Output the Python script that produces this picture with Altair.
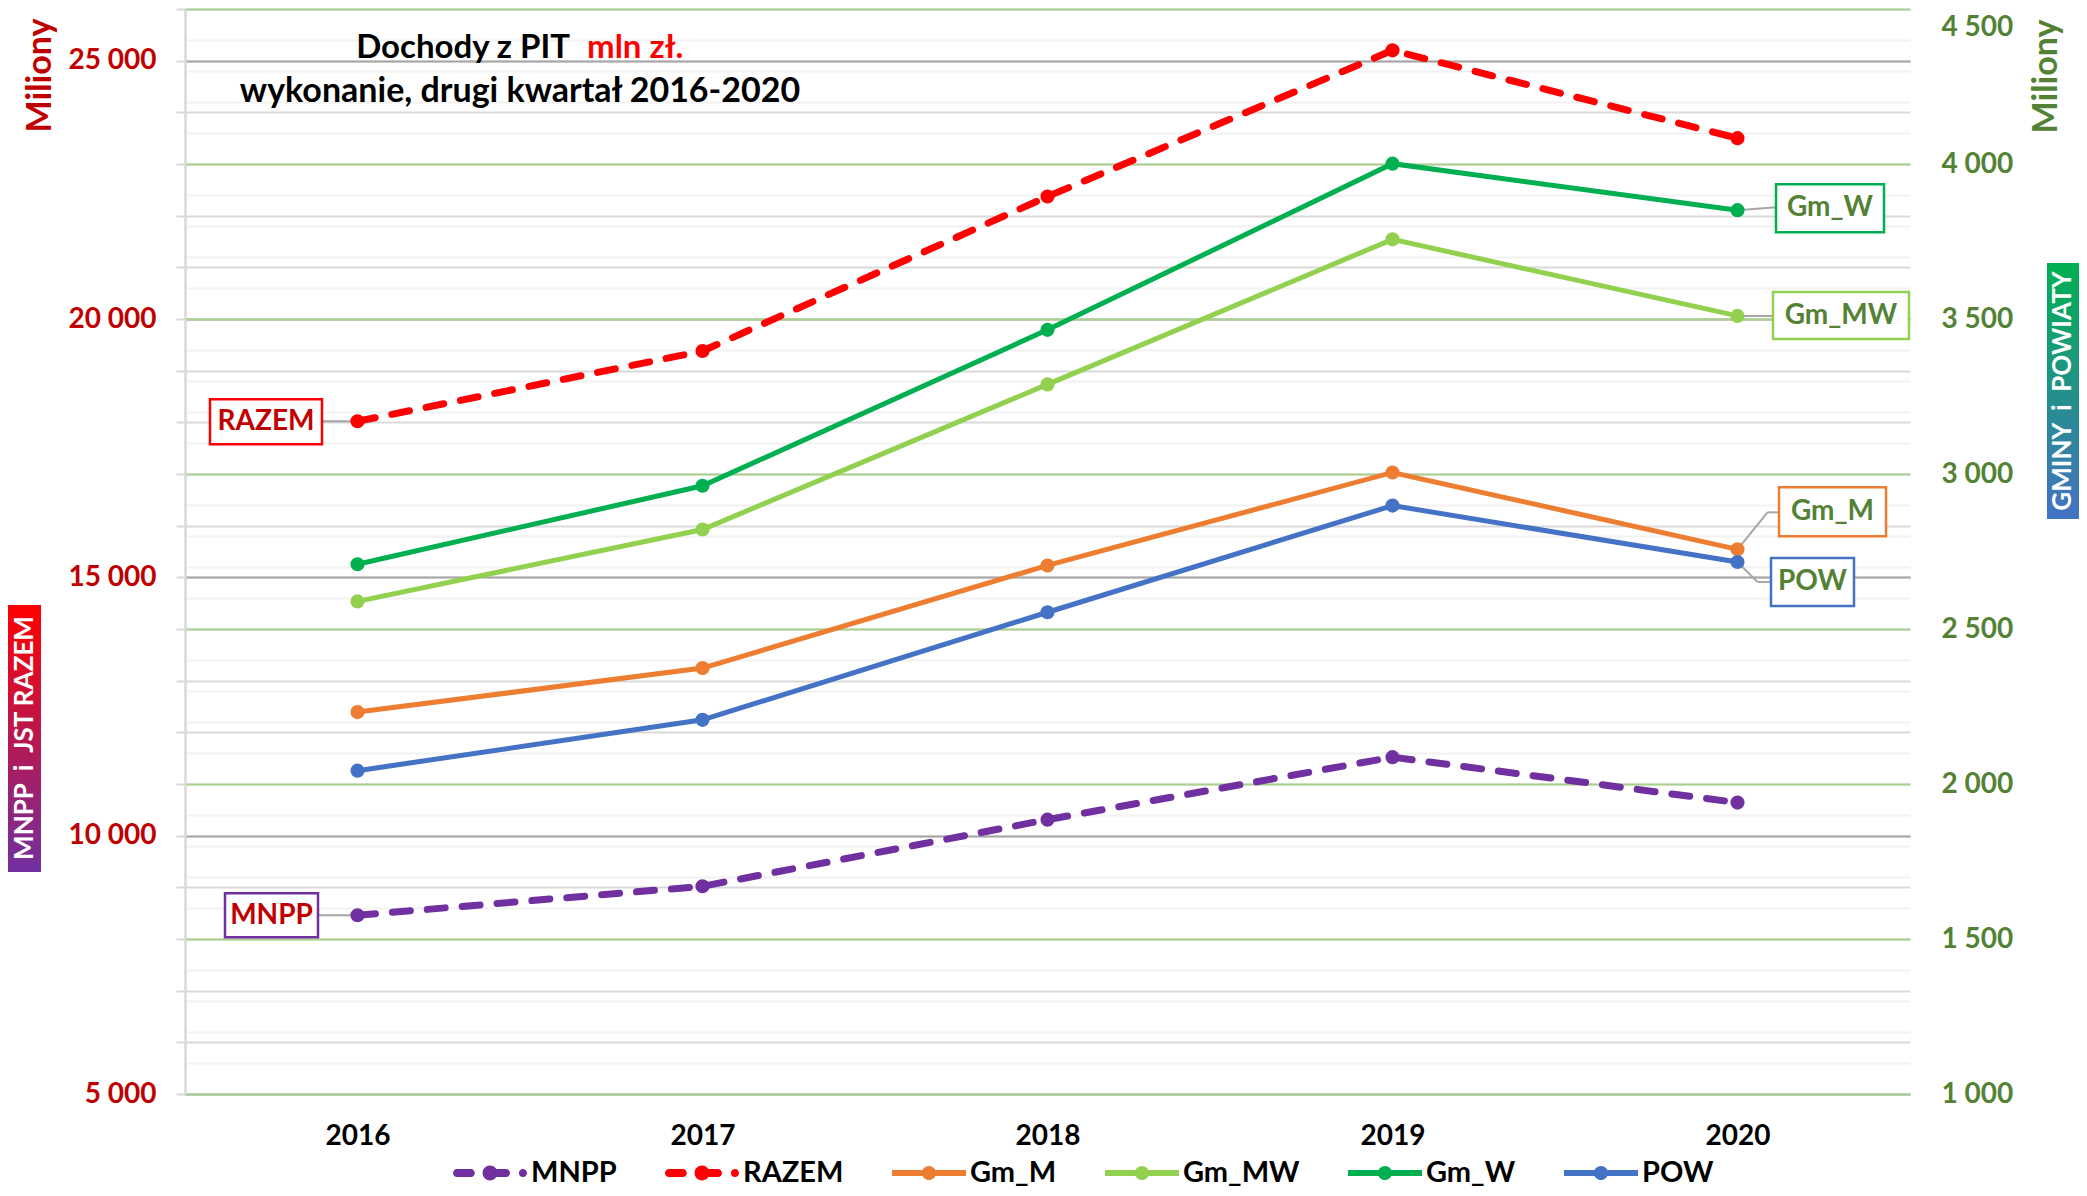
import altair as alt
import pandas as pd

# ---------------- data ----------------
years = ["2016", "2017", "2018", "2019", "2020"]
series = ["MNPP", "RAZEM", "Gm_M", "Gm_MW", "Gm_W", "POW"]
mnpp = [8460, 9020, 10310, 11520, 10640]
razem = [18020, 19380, 22370, 25200, 23500]
gm_m = [2232, 2374, 2705, 3005, 2757]
gm_mw = [2589, 2821, 3289, 3757, 3510]
gm_w = [2709, 2962, 3465, 4001, 3851]
pow_ = [2043, 2207, 2554, 2898, 2716]
left_major = [5000, 10000, 15000, 20000, 25000]
left_minor = [5000, 6000, 7000, 8000, 9000, 10000, 11000, 12000, 13000, 14000, 15000,
              16000, 17000, 18000, 19000, 20000, 21000, 22000, 23000, 24000, 25000, 26000]
right_major = [1000, 1500, 2000, 2500, 3000, 3500, 4000, 4500]
right_minor = [1000 + 100 * i for i in range(36)]

colors = ["#7030A0", "#FF0000", "#ED7D31", "#92D050", "#00B050", "#4472C4"]
sides = ["L", "L", "R", "R", "R", "R"]
FONT = "Lato"
W, H = 1725, 1085

rows = []
for name, vals, side in zip(series, [mnpp, razem, gm_m, gm_mw, gm_w, pow_], sides):
    for yr, v in zip(years, vals):
        rows.append({"year": yr, "series": name, "value": v, "side": side})
df = pd.DataFrame(rows)
one = pd.DataFrame({"k": [0]})

YL = alt.Scale(domain=[5000, 26000], nice=False, zero=False)
YR = alt.Scale(domain=[1000, 4500], nice=False, zero=False)

X = alt.X("year:O", scale=alt.Scale(type="point", padding=0.5),
          axis=alt.Axis(title=None, labelAngle=0, labelFont=FONT, labelFontSize=28,
                        labelFontWeight="bold", labelColor="black", labelPadding=28,
                        ticks=False, domain=False, grid=False))

FMT = "replace(format(datum.value, ','), ',', ' ')"

axL_minor = alt.Axis(orient="left", values=left_minor, grid=True, gridColor="#D9D9D9", gridWidth=2,
                     labels=False, ticks=True, tickSize=9, tickColor="#D9D9D9", tickWidth=2,
                     domain=True, domainColor="#D9D9D9", domainWidth=2.5, title=None)
axR_minor = alt.Axis(orient="right", values=right_minor, grid=True, gridColor="#F2F2F2", gridWidth=2,
                     labels=False, ticks=False, tickSize=0, domain=False, title=None)
axL_major = alt.Axis(orient="left", values=left_major, grid=True, gridColor="#A6A6A6", gridWidth=2,
                     labelExpr=FMT, labelFont=FONT, labelFontSize=28, labelFontWeight="bold",
                     labelColor="#C00000", labelPadding=29, labelOverlap=False, labelFlush=False,
                     labelBaseline="middle", ticks=False, tickSize=0, domain=False,
                     title="Miliony", titleAngle=270, titleX=-145, titleY=66, titleAlign="center",
                     titleBaseline="middle", titleFont=FONT, titleFontSize=34,
                     titleFontWeight="bold", titleColor="#C00000")
axR_major = alt.Axis(orient="right", values=right_major, grid=True, gridColor="#A9D18E", gridWidth=2,
                     labelExpr=FMT, labelFont=FONT, labelFontSize=28, labelFontWeight="bold",
                     labelColor="#548235", labelPadding=31, labelOverlap=False, labelFlush=False,
                     labelAlign="left", labelBaseline="middle",
                     labelOffset={"condition": {"test": "datum.value === 4500", "value": 18}, "value": 0},
                     ticks=False, tickSize=0, domain=False,
                     title="Miliony", titleAngle=270, titleX=136, titleY=67, titleAlign="center",
                     titleBaseline="middle", titleFont=FONT, titleFontSize=34,
                     titleFontWeight="bold", titleColor="#548235")

left_data = alt.Chart(df).transform_filter("datum.side === 'L'")
right_data = alt.Chart(df).transform_filter("datum.side === 'R'")


def guide(data, scale, axis):
    return data.mark_line(strokeOpacity=0).encode(
        x=X, y=alt.Y("value:Q", scale=scale, axis=axis), detail="series:N")


# callout styles (pixel offsets from the data point)
callouts = {
    "RAZEM": dict(year="2016", box=(-147.5, -35.5, -22, 23), text=(-91.5, 1),
                  legs=[(-35.5, 0, 0, 0)], stroke="#FF0000", color="#C00000"),
    "MNPP": dict(year="2016", box=(-132.5, -39.5, -22, 22), text=(-86, 1),
                 legs=[(-39.5, 0, 0, 0)], stroke="#7030A0", color="#C00000"),
    "Gm_W": dict(year="2020", box=(38.5, 146.5, -26, 22), text=(92.5, -2),
                 legs=[(0, 0, 38.5, -3)], stroke="#00B050", color="#548235"),
    "Gm_MW": dict(year="2020", box=(35.5, 171.5, -24, 23), text=(103.5, 0),
                  legs=[(0, 0, 35.5, 0)], stroke="#92D050", color="#548235"),
    "Gm_M": dict(year="2020", box=(41.5, 148.5, -62, -13), text=(95, -37),
                 legs=[(0, 0, 30, -37), (30, -37, 41.5, -37)], stroke="#ED7D31", color="#548235"),
    "POW": dict(year="2020", box=(33.5, 116.5, -4, 44), text=(75, 20),
                legs=[(0, 0, 20, 20), (20, 20, 33.5, 20)], stroke="#4472C4", color="#548235"),
}


def callout_layers(name, yscale):
    c = callouts[name]
    base = alt.Chart(df).transform_filter(
        f"datum.series === '{name}' && datum.year === '{c['year']}'")
    y = alt.Y("value:Q", scale=yscale, axis=None)
    under, over = [], []
    for (x1, y1, x2, y2) in c["legs"]:
        under.append(base.mark_rule(color="#A6A6A6", strokeWidth=2, xOffset=x1, yOffset=y1,
                                    x2Offset=x2, y2Offset=y2)
                     .encode(x=X, x2=alt.X2("year"), y=y, y2=alt.Y2("value")))
    bx1, bx2, by1, by2 = c["box"]
    over.append(base.mark_rect(fill="white", stroke=c["stroke"], strokeWidth=2.5,
                               xOffset=bx1, x2Offset=bx2, yOffset=by1, y2Offset=by2)
                .encode(x=X, x2=alt.X2("year"), y=y, y2=alt.Y2("value")))
    over.append(base.mark_text(dx=c["text"][0], dy=c["text"][1], font=FONT, fontSize=28,
                               fontWeight="bold", color=c["color"], align="center",
                               baseline="middle")
                .encode(x=X, y=y, text="series:N"))
    return under, over


under_all, over_all = [], []
for n in ["RAZEM", "MNPP"]:
    u, o = callout_layers(n, YL)
    under_all += u
    over_all += o
for n in ["Gm_W", "Gm_MW", "Gm_M", "POW"]:
    u, o = callout_layers(n, YR)
    under_all += u
    over_all += o

# series lines and markers, one layer per series (constant colours)
line_layers, point_layers = [], []
for name, col, side in zip(series, colors, sides):
    base = alt.Chart(df).transform_filter(f"datum.series === '{name}'")
    sc = YL if side == "L" else YR
    y = alt.Y("value:Q", scale=sc, axis=None)
    if side == "L":
        ln = base.mark_line(color=col, strokeWidth=7, strokeDash=[18, 17], strokeCap="round")
    else:
        ln = base.mark_line(color=col, strokeWidth=5)
    line_layers.append(ln.encode(x=X, y=y))
    point_layers.append(base.mark_circle(color=col, size=200, opacity=1).encode(x=X, y=y))

# legend symbols (line + marker glyphs)
solid = ("M-1,-0.08L1,-0.08L1,0.08L-1,0.08Z "
         "M0.19,0A0.19,0.19 0 1,1 -0.19,0A0.19,0.19 0 1,1 0.19,0Z")
dashed = ("M-0.89,-0.11L-0.52,-0.11A0.11,0.11 0 0,1 -0.52,0.11L-0.89,0.11A0.11,0.11 0 0,1 -0.89,-0.11Z "
          "M-0.08,-0.11L0.43,-0.11A0.11,0.11 0 0,1 0.43,0.11L-0.08,0.11A0.11,0.11 0 0,1 -0.08,-0.11Z "
          "M0.2,0A0.2,0.2 0 1,1 -0.2,0A0.2,0.2 0 1,1 0.2,0Z "
          "M1.0,0A0.11,0.11 0 1,1 0.78,0A0.11,0.11 0 1,1 1.0,0Z")
paths = [dashed, dashed, solid, solid, solid, solid]

leg = alt.Legend(orient="none", legendX=268, legendY=1127, direction="horizontal", columns=6,
                 title=None, labelFont=FONT, labelFontSize=29, labelFontWeight="bold",
                 labelColor="black", symbolSize=5476, symbolStrokeWidth=0, labelOffset=4,
                 columnPadding=48, padding=0, symbolOpacity=1)

legend_layer = alt.Chart(df).transform_filter("false").mark_point(filled=True, opacity=1, size=200).encode(
    x=X, y=alt.Y("value:Q", scale=YR, axis=None),
    color=alt.Color("series:N", scale=alt.Scale(domain=series, range=colors), legend=leg),
    shape=alt.Shape("series:N", scale=alt.Scale(domain=series, range=paths), legend=leg))

# decorations: title and gradient side labels
deco = alt.Chart(one)
t1 = deco.mark_text(font=FONT, fontSize=33, fontWeight="bold", color="black", align="right",
                    baseline="alphabetic").encode(x=alt.value(385), y=alt.value(49),
                                                  text=alt.value("Dochody z PIT"))
t2 = deco.mark_text(font=FONT, fontSize=33, fontWeight="bold", color="#FF0000", align="left",
                    baseline="alphabetic").encode(x=alt.value(402), y=alt.value(49),
                                                  text=alt.value("mln zł."))
t3 = deco.mark_text(font=FONT, fontSize=34, fontWeight="bold", color="black", align="center",
                    baseline="alphabetic").encode(x=alt.value(335), y=alt.value(93),
                                                  text=alt.value("wykonanie, drugi kwartał 2016-2020"))

grad_left = alt.LinearGradient(gradient="linear", x1=0, y1=0, x2=0, y2=1,
                               stops=[alt.GradientStop(color="#FF0000", offset=0),
                                      alt.GradientStop(color="#7030A0", offset=1)])
grad_right = alt.LinearGradient(gradient="linear", x1=0, y1=0, x2=0, y2=1,
                                stops=[alt.GradientStop(color="#00B050", offset=0),
                                       alt.GradientStop(color="#4472C4", offset=1)])
box_l = deco.mark_rect(fill=grad_left).encode(x=alt.value(-177), x2=alt.value(-144),
                                              y=alt.value(596), y2=alt.value(863))
txt_l = deco.mark_text(font=FONT, fontSize=26, fontWeight="bold", color="white", angle=270,
                       align="center", baseline="middle").encode(
    x=alt.value(-160), y=alt.value(729), text=alt.value("MNPP\u00a0 i\u00a0 JST RAZEM"))
box_r = deco.mark_rect(fill=grad_right).encode(x=alt.value(1862), x2=alt.value(1894),
                                               y=alt.value(254), y2=alt.value(510))
txt_r = deco.mark_text(font=FONT, fontSize=26, fontWeight="bold", color="white", angle=270,
                       align="center", baseline="middle").encode(
    x=alt.value(1878), y=alt.value(382), text=alt.value("GMINY\u00a0 i\u00a0 POWIATY"))

chart = alt.layer(
    guide(left_data, YL, axL_minor),
    guide(right_data, YR, axR_minor),
    guide(left_data, YL, axL_major),
    guide(right_data, YR, axR_major),
    *under_all,
    *line_layers, *point_layers,
    *over_all,
    legend_layer,
    t1, t2, t3, box_l, txt_l, box_r, txt_r,
).resolve_scale(
    y="independent"
).properties(
    width=W, height=H,
    autosize=alt.AutoSizeParams(type="none"),
    padding={"left": 177, "top": 1, "right": 169, "bottom": 94},
).configure_view(stroke=None)

chart.save("out.html", embed_options={"renderer": "svg", "actions": False})
